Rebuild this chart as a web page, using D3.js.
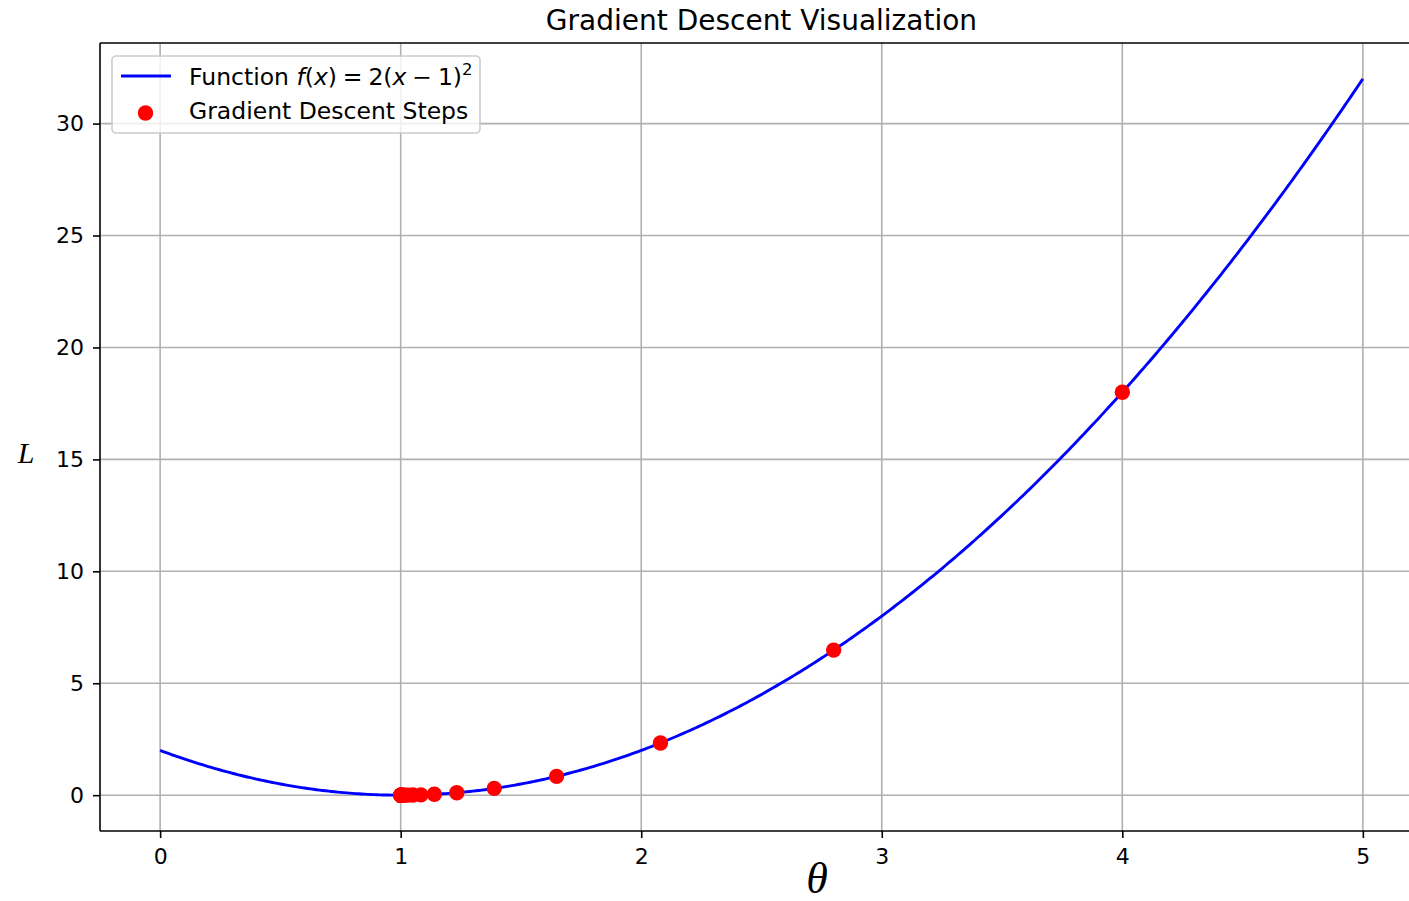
<!DOCTYPE html>
<html>
<head>
<meta charset="utf-8">
<script src="https://cdn.jsdelivr.net/npm/d3@7"></script>
<style>
  html, body { margin: 0; padding: 0; background: #fff; }
  svg { display: block; font-family: "DejaVu Sans", sans-serif; }
</style>
</head>
<body>
<svg id="chart" width="1409" height="901"></svg>
<script>
// Gradient descent on f(x) = 2(x - 1)^2, starting at x = 4 (learning rate 0.1)
const stepTheta = [4, 2.8, 2.08, 1.648, 1.3888, 1.23328, 1.13997, 1.08398, 1.05039, 1.03023,
                   1.01814, 1.01088, 1.00653, 1.00392, 1.00235, 1.00141, 1.00085, 1.00051, 1.00030, 1.00018];
const stepLoss  = [18, 6.48, 2.3328, 0.8398, 0.3023, 0.1088, 0.0392, 0.0141, 0.0051, 0.0018,
                   0.0007, 0.0002, 0.0001, 0.00003, 0.00001, 0, 0, 0, 0, 0];
const xTicks = [0, 1, 2, 3, 4, 5];
const yTicks = [0, 5, 10, 15, 20, 25, 30];
const thetaRange = [0, 5];
const curveSamples = 400;
const lossFn = x => 2 * (x - 1) * (x - 1);

const svg = d3.select("#chart");
const plotLeft = 100, plotRight = 1423, plotTop = 43, plotBottom = 831;

const x = d3.scaleLinear().domain([-0.25, 5.25]).range([plotLeft, plotRight]);
const y = d3.scaleLinear().domain([-1.6, 33.6]).range([plotBottom, plotTop]);

// Plot area clip
svg.append("defs").append("clipPath").attr("id", "plotclip")
  .append("rect").attr("x", plotLeft).attr("y", plotTop)
  .attr("width", plotRight - plotLeft).attr("height", plotBottom - plotTop);

// Grid lines
const grid = svg.append("g").attr("stroke", "#b0b0b0").attr("stroke-width", 1.6);
grid.selectAll(".gx").data(xTicks).join("line").attr("class", "gx")
  .attr("x1", d => x(d)).attr("x2", d => x(d)).attr("y1", plotTop).attr("y2", plotBottom);
grid.selectAll(".gy").data(yTicks).join("line").attr("class", "gy")
  .attr("x1", plotLeft).attr("x2", plotRight).attr("y1", d => y(d)).attr("y2", d => y(d));

// Function curve
const curve = d3.range(curveSamples + 1).map(i => {
  const t = thetaRange[0] + (thetaRange[1] - thetaRange[0]) * i / curveSamples;
  return [t, lossFn(t)];
});
svg.append("path").datum(curve)
  .attr("clip-path", "url(#plotclip)")
  .attr("fill", "none").attr("stroke", "#0000ff").attr("stroke-width", 2.9)
  .attr("d", d3.line().x(d => x(d[0])).y(d => y(d[1])));

// Gradient descent steps
svg.append("g").attr("clip-path", "url(#plotclip)")
  .selectAll("circle").data(stepTheta.map((t, i) => [t, stepLoss[i]])).join("circle")
  .attr("cx", d => x(d[0])).attr("cy", d => y(d[1])).attr("r", 7.7).attr("fill", "#ff0000");

// Axes
const xAxis = svg.append("g").attr("transform", `translate(0,${plotBottom})`)
  .call(d3.axisBottom(x).tickValues(xTicks).tickSize(7).tickPadding(10).tickFormat(d3.format("d")));
const yAxis = svg.append("g").attr("transform", `translate(${plotLeft},0)`)
  .call(d3.axisLeft(y).tickValues(yTicks).tickSize(7).tickPadding(9).tickFormat(d3.format("d")));
[xAxis, yAxis].forEach(a => {
  a.select(".domain").remove();
  a.selectAll(".tick line").attr("stroke", "#000").attr("stroke-width", 1.6);
  a.selectAll(".tick text").attr("font-family", "DejaVu Sans").attr("font-size", 22).attr("fill", "#000");
});

// Spines
const spines = svg.append("g").attr("stroke", "#000").attr("stroke-width", 1.6).attr("fill", "none");
spines.append("line").attr("x1", plotLeft).attr("x2", plotLeft).attr("y1", plotTop).attr("y2", plotBottom);
spines.append("line").attr("x1", plotLeft).attr("x2", plotRight).attr("y1", plotBottom).attr("y2", plotBottom);
spines.append("line").attr("x1", plotLeft).attr("x2", plotRight).attr("y1", plotTop).attr("y2", plotTop);
spines.append("line").attr("x1", plotRight).attr("x2", plotRight).attr("y1", plotTop).attr("y2", plotBottom);

// Title and axis labels
svg.append("text").attr("x", (plotLeft + plotRight) / 2).attr("y", 30).attr("text-anchor", "middle")
  .attr("font-size", 28).attr("fill", "#000").text("Gradient Descent Visualization");
svg.append("text").attr("x", 817).attr("y", 893).attr("text-anchor", "middle")
  .attr("font-family", "Liberation Serif, serif").attr("font-style", "italic").attr("font-size", 44)
  .attr("fill", "#000").text("θ");
svg.append("text").attr("x", 26).attr("y", 463).attr("text-anchor", "middle")
  .attr("font-family", "Liberation Serif, serif").attr("font-style", "italic").attr("font-size", 30)
  .attr("fill", "#000").text("L");

// Legend
const lg = svg.append("g");
lg.append("rect").attr("x", 112).attr("y", 56).attr("width", 368).attr("height", 77).attr("rx", 4)
  .attr("fill", "#fff").attr("fill-opacity", 0.8).attr("stroke", "#cccccc").attr("stroke-width", 1.6);
lg.append("line").attr("x1", 121).attr("x2", 171).attr("y1", 76).attr("y2", 76)
  .attr("stroke", "#0000ff").attr("stroke-width", 2.9);
lg.append("circle").attr("cx", 145.5).attr("cy", 113).attr("r", 7.7).attr("fill", "#ff0000");
const t1 = lg.append("text").attr("x", 189).attr("y", 85).attr("font-size", 23.5).attr("fill", "#000");
t1.append("tspan").text("Function ");
t1.append("tspan").attr("font-style", "italic").text("f");
t1.append("tspan").text("(");
t1.append("tspan").attr("font-style", "italic").text("x");
t1.append("tspan").text(")\u2005=\u20052(");
t1.append("tspan").attr("font-style", "italic").text("x");
t1.append("tspan").text("\u2005−\u20051)");
t1.append("tspan").attr("font-size", 16.5).attr("dy", -10).text("2");
lg.append("text").attr("x", 189).attr("y", 119).attr("font-size", 23.5).attr("fill", "#000")
  .text("Gradient Descent Steps");
</script>
</body>
</html>
